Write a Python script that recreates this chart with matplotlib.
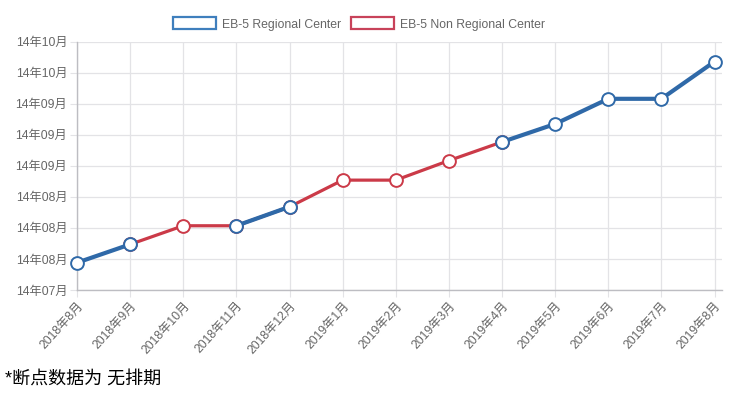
import numpy as np
import matplotlib.pyplot as plt
from matplotlib.patches import Patch

plt.rcParams['font.family'] = ['Liberation Sans', 'Noto Sans CJK SC', 'DejaVu Sans']

months = ['2018年8月', '2018年9月', '2018年10月', '2018年11月', '2018年12月',
          '2019年1月', '2019年2月', '2019年3月', '2019年4月', '2019年5月',
          '2019年6月', '2019年7月', '2019年8月']
# None = 无排期 (break in the line)
regional = [8.8, 14.7, None, 20.7, 26.8, None, None, None, 47.7, 53.5, 61.6, 61.6, 73.6]
non_regional = [None, 14.7, 20.7, 20.7, 26.8, 35.4, 35.4, 41.7, 47.7, None, None, None, None]
ytick_vals = [0, 10, 20, 30, 40, 50, 60, 70, 80]
ytick_labels = ['14年07月', '14年08月', '14年08月', '14年08月', '14年09月',
                '14年09月', '14年09月', '14年10月', '14年10月']

blue = '#2f69a8'
red = '#cb3a48'
grid_c = '#e3e3e6'

def arr(v):
    return np.array([np.nan if a is None else a for a in v], dtype=float)

fig = plt.figure(figsize=(7.37, 3.98), dpi=100)
ax = fig.add_axes([77 / 737, 1 - 290 / 398, (722 - 77) / 737, (290 - 41.7) / 398])

x = np.arange(len(months))
ax.plot(x, arr(non_regional), color=red, lw=2.3, marker='o', ms=9.2,
        mfc='white', mec=red, mew=1.4, zorder=3, clip_on=False)
ax.plot(x, arr(regional), color=blue, lw=3.0, marker='o', ms=9.2,
        mfc='white', mec=blue, mew=1.4, zorder=4, clip_on=False)

ax.set_xlim(0, 12.14)
ax.set_ylim(0, 80)
ax.set_xticks(x)
ax.set_xticklabels(months, rotation=48, ha='right', rotation_mode='anchor',
                   fontsize=8.8, color='#666666')
ax.set_yticks(ytick_vals)
ax.set_yticklabels(ytick_labels, fontsize=8.8, color='#666666')
ax.tick_params(axis='both', length=5, color=grid_c, pad=2)
ax.grid(True, color=grid_c, lw=0.9)
ax.set_axisbelow(True)
for s in ['top', 'right']:
    ax.spines[s].set_visible(False)
for s in ['left', 'bottom']:
    ax.spines[s].set_color('#bdbdc2')
    ax.spines[s].set_linewidth(1)

handles = [Patch(facecolor='white', edgecolor='#3f7fbd', lw=1.6, label='EB-5 Regional Center'),
           Patch(facecolor='white', edgecolor='#c8425a', lw=1.6, label='EB-5 Non Regional Center')]
leg = fig.legend(handles=handles, loc='center', bbox_to_anchor=(359 / 737, 1 - 24 / 398),
                 ncol=2, frameon=False, fontsize=8.8, handlelength=3.5, handleheight=1.1,
                 handletextpad=0.5, columnspacing=0.8, labelcolor='#666666')

fig.text(5 / 737, 1 - 380 / 398, '*断点数据为 无排期', fontsize=13, color='black', va='center')

fig.savefig('out.png', dpi=100)
